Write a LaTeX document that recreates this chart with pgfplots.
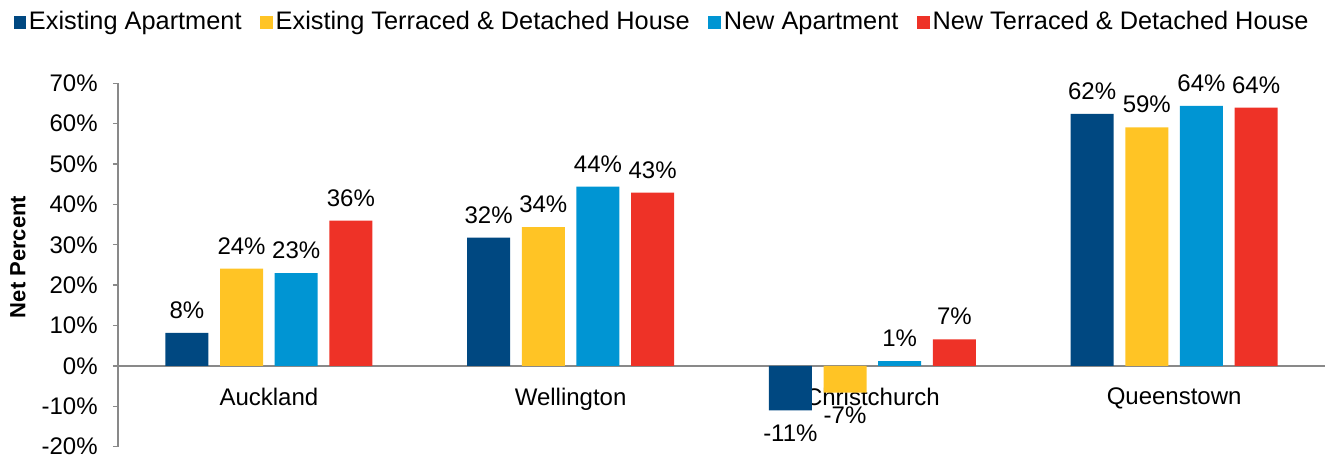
\documentclass[border=0pt]{standalone}
\usepackage{pgfplots}
\pgfplotsset{compat=1.18}
\usepackage{fontspec}
\setmainfont{Liberation Sans}
\definecolor{cdark}{RGB}{0,72,129}
\definecolor{cyel}{RGB}{255,196,37}
\definecolor{clight}{RGB}{0,149,211}
\definecolor{cred}{RGB}{238,50,39}
\definecolor{caxis}{RGB}{137,137,137}
\begin{document}
\fontsize{17.5}{21}\selectfont
\begin{tikzpicture}
\useasboundingbox (-88.5pt,-6.2pt) rectangle (910.5pt,335pt);
\begin{axis}[
  at={(0,0)}, anchor=south west,
  scale only axis,
  width=905.25pt, height=272.55pt,
  xmin=-0.5, xmax=3.5,
  ymin=-20, ymax=70,
  ytick={-20,-10,0,10,20,30,40,50,60,70},
  yticklabel={\pgfmathprintnumber{\tick}\%},
  /pgf/number format/assume math mode=true,
  xtick={0,1,2,3},
  xticklabels={Auckland,Wellington,Christchurch,Queenstown},
  axis x line=middle,
  axis y line=left,
  axis line style={-, draw=caxis, line width=1pt},
  xtick style={draw=none},
  ytick style={draw=caxis, line width=1pt},
  tick align=outside,
  major tick length=3.75pt,
  yticklabel style={font=\fontsize{18}{21}\selectfont, xshift=-5.5pt},
  xticklabel style={font=\fontsize{18}{21}\selectfont, yshift=-6.5pt, fill=none},
  ylabel={\textbf{Net Percent}},
  ylabel style={at={(axis description cs:-0.0829,0.522)}, anchor=center, font=\fontsize{16.5}{20}\selectfont},
  ybar=8.75pt,
  bar width=32.25pt,
  nodes near coords={\pgfmathprintnumber[fixed,precision=0]{\pgfplotspointmeta}\%},
  nodes near coords align={vertical},
  every node near coord/.append style={font=\fontsize{18}{21}\selectfont, inner xsep=1pt, inner ysep=10.5pt},
  legend columns=4,
  legend style={at={(0.451,1.168)}, anchor=center, draw=none, fill=none,
    font=\fontsize{19}{22}\selectfont,
    /tikz/every even column/.append style={column sep=12pt}},
  legend image code/.code={\fill[#1] (0pt,-4.8pt) rectangle (9.6pt,4.8pt);},
  clip=false,
]
\addplot[fill=cdark, draw=none] coordinates {(0,8.2) (1,31.8) (2,-11.0) (3,62.4)};
\addplot[fill=cyel, draw=none] coordinates {(0,24.1) (1,34.4) (2,-6.6) (3,59.1)};
\addplot[fill=clight, draw=none] coordinates {(0,23.0) (1,44.4) (2,1.2) (3,64.4)};
\addplot[fill=cred, draw=none] coordinates {(0,36.0) (1,42.9) (2,6.6) (3,64.0)};
\legend{Existing Apartment, Existing Terraced \& Detached House, New Apartment, New Terraced \& Detached House}
\end{axis}
\end{tikzpicture}
\end{document}
